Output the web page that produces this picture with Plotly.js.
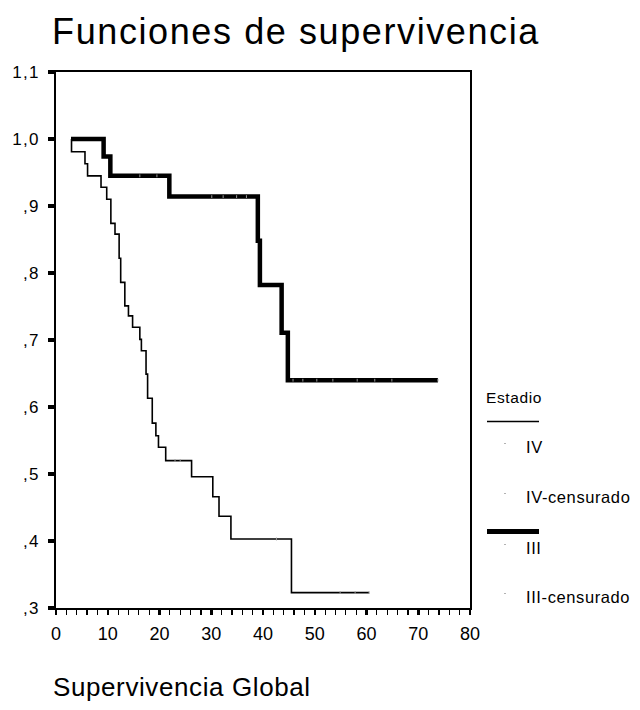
<!DOCTYPE html>
<html>
<head>
<meta charset="utf-8">
<script src="https://cdn.plot.ly/plotly-3.0.1.min.js"></script>
<style>
  html, body { margin: 0; padding: 0; background: #fff; }
  #chart { width: 640px; height: 710px; }
  .gtitle { letter-spacing: 1.6px; }
  .annotation-text { letter-spacing: 0.6px; }
  .ytick text { letter-spacing: 1.2px; }
</style>
</head>
<body>
<div id="chart"></div>
<script>
// ---- Data ----
// Stage IV Kaplan-Meier steps (time in months, cumulative survival)
const ivTime = [2.9, 3.0, 5.6, 6.1, 8.7, 9.8, 10.6, 11.4, 12.2, 12.5, 13.3, 14.0, 14.8, 16.2, 16.5, 17.4, 17.7, 18.6, 19.3, 19.8, 21.2, 26.2, 30.3, 31.5, 33.8, 45.5, 60.5];
const ivSurv = [1.0, 0.981, 0.963, 0.945, 0.928, 0.910, 0.874, 0.858, 0.822, 0.786, 0.751, 0.736, 0.719, 0.701, 0.684, 0.649, 0.613, 0.576, 0.557, 0.540, 0.520, 0.496, 0.466, 0.437, 0.403, 0.323, 0.323];
// Stage IV censored cases
const ivCensTime = [23.0, 24.0, 42.6, 54.9, 57.8, 60.5];
const ivCensSurv = [0.520, 0.520, 0.403, 0.323, 0.323, 0.323];

// Stage III Kaplan-Meier steps
const iiiTime = [2.9, 9.2, 10.5, 21.9, 39.0, 39.4, 43.6, 44.8, 73.8];
const iiiSurv = [1.0, 0.974, 0.945, 0.914, 0.848, 0.782, 0.711, 0.640, 0.640];
// Stage III censored cases
const iiiCensTime = [16.2, 19.5, 30.1, 32.3, 34.9, 36.8, 45.8, 47.7, 50.4, 53.5, 58.2, 61.6, 64.9, 73.8];
const iiiCensSurv = [0.945, 0.945, 0.914, 0.914, 0.914, 0.914, 0.640, 0.640, 0.640, 0.640, 0.640, 0.640, 0.640, 0.640];

// Tick labels
const xTickVals = [0, 10, 20, 30, 40, 50, 60, 70, 80];
const yTickVals = [0.3, 0.4, 0.5, 0.6, 0.7, 0.8, 0.9, 1.0, 1.1];
const yTickText = [",3", ",4", ",5", ",6", ",7", ",8", ",9", "1,0", "1,1"];

// Legend entries
const legendTitle = "Estadio";
const legendLabels = ["IV", "IV-censurado", "III", "III-censurado"];

const chartTitle = "Funciones de supervivencia";
const footnote = "Supervivencia Global";

// ---- Chart ----
const FONT = "Liberation Sans, Arial, sans-serif";

const traces = [
  { x: ivTime, y: ivSurv, mode: "lines", line: { shape: "hv", color: "#000", width: 1.6 }, name: legendLabels[0], hoverinfo: "skip" },
  { x: ivCensTime, y: ivCensSurv, mode: "markers", marker: { symbol: "line-ns", size: 2, line: { color: "#999", width: 1 } }, name: legendLabels[1], hoverinfo: "skip" },
  { x: iiiTime, y: iiiSurv, mode: "lines", line: { shape: "hv", color: "#000", width: 4.5 }, name: legendLabels[2], hoverinfo: "skip" },
  { x: iiiCensTime, y: iiiCensSurv, mode: "markers", marker: { symbol: "line-ns", size: 2, line: { color: "#999", width: 1 } }, name: legendLabels[3], hoverinfo: "skip" }
];

// plot area geometry in pixels (for legend placement in paper coords)
const L = 56, R = 470, T = 72, B = 608;
const px2x = p => (p - L) / (R - L);
const px2y = p => (B - p) / (B - T);

const legendRowsY = [447, 497, 548, 597];
const annotations = [
  { text: legendTitle, xref: "paper", yref: "paper", x: px2x(484), y: px2y(397), xanchor: "left", yanchor: "middle", showarrow: false, font: { family: FONT, size: 15.5, color: "#000" } },
  { text: footnote, xref: "paper", yref: "paper", x: px2x(51), y: px2y(687), xanchor: "left", yanchor: "middle", showarrow: false, font: { family: FONT, size: 26, color: "#000" } }
];
legendLabels.forEach((lab, i) => {
  annotations.push({ text: lab, xref: "paper", yref: "paper", x: px2x(524), y: px2y(legendRowsY[i]), xanchor: "left", yanchor: "middle", showarrow: false, font: { family: FONT, size: 16.5, color: "#000" } });
});

const shapes = [
  { type: "line", xref: "paper", yref: "paper", x0: px2x(487), x1: px2x(539), y0: px2y(421.5), y1: px2y(421.5), line: { color: "#000", width: 1.6 } },
  { type: "line", xref: "paper", yref: "paper", x0: px2x(487), x1: px2x(539), y0: px2y(531.5), y1: px2y(531.5), line: { color: "#000", width: 5 } }
];
legendRowsY.forEach(yy => {
  shapes.push({ type: "rect", xref: "paper", yref: "paper", x0: px2x(504.5), x1: px2x(505.5), y0: px2y(yy - 4), y1: px2y(yy - 3), line: { width: 0 }, fillcolor: "#666" });
});

const layout = {
  width: 640, height: 710,
  paper_bgcolor: "#fff", plot_bgcolor: "#fff",
  margin: { l: L, r: 640 - R, t: T, b: 710 - B, pad: 0 },
  showlegend: false,
  font: { family: FONT, color: "#000" },
  title: {
    text: chartTitle,
    font: { family: FONT, size: 36, color: "#000" },
    xref: "container", x: 296 / 640, xanchor: "center",
    yref: "container", y: 1 - 31 / 710, yanchor: "middle"
  },
  xaxis: {
    range: [0, 80], tickvals: xTickVals, ticktext: xTickVals.map(String),
    ticks: "outside", ticklen: 5, tickwidth: 2.5, tickcolor: "#000",
    minor: { dtick: 2, ticks: "outside", ticklen: 5, tickwidth: 1.2, tickcolor: "#000", showgrid: false },
    showline: true, linecolor: "#000", linewidth: 2, mirror: true,
    showgrid: false, zeroline: false,
    tickfont: { family: FONT, size: 18, color: "#000" }, ticklabelstandoff: 3
  },
  yaxis: {
    range: [0.3, 1.1], tickvals: yTickVals, ticktext: yTickText,
    ticks: "outside", ticklen: 6, tickwidth: 4, tickcolor: "#000",
    showline: true, linecolor: "#000", linewidth: 2, mirror: true,
    showgrid: false, zeroline: false,
    tickfont: { family: FONT, size: 17, color: "#000" }, ticklabelstandoff: 5
  },
  annotations: annotations,
  shapes: shapes
};

Plotly.newPlot("chart", traces, layout, { staticPlot: true, displayModeBar: false });
</script>
</body>
</html>
